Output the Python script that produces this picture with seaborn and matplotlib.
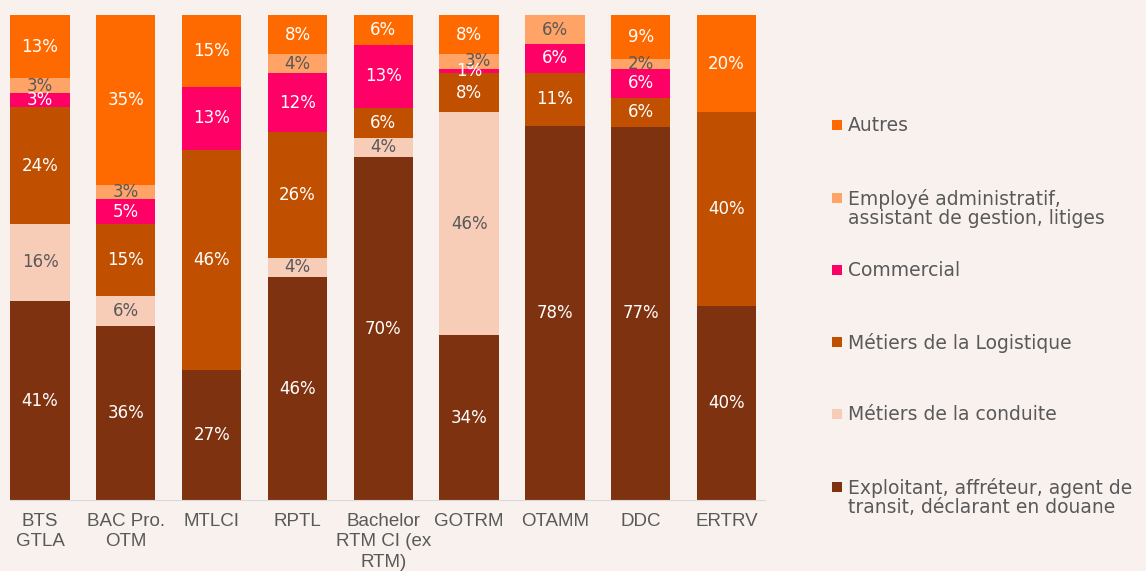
import numpy as np
import pandas as pd
import matplotlib
matplotlib.use('Agg')
import matplotlib.pyplot as plt
from matplotlib.patches import Rectangle
import seaborn as sns

# formations (axe x)
formations = ['BTS\nGTLA', 'BAC Pro.\nOTM', 'MTLCI', 'RPTL', 'Bachelor\nRTM CI (ex\nRTM)',
              'GOTRM', 'OTAMM', 'DDC', 'ERTRV']
# categories, du bas vers le haut
categories = ['Exploitant, affréteur, agent de\ntransit, déclarant en douane',
              'Métiers de la conduite',
              'Métiers de la Logistique',
              'Commercial',
              'Employé administratif,\nassistant de gestion, litiges',
              'Autres']
exploitant = [41, 36, 27, 46, 70, 34, 78, 77, 40]
conduite = [16, 6, 0, 4, 4, 46, 0, 0, 0]
logistique = [24, 15, 46, 26, 6, 8, 11, 6, 40]
commercial = [3, 5, 13, 12, 13, 1, 6, 6, 0]
employe = [3, 3, 0, 4, 0, 3, 6, 2, 0]
autres = [13, 35, 15, 8, 6, 8, 0, 9, 20]

colors = ['#7F3210', '#F8CDB8', '#C04F00', '#FF0066', '#FFA366', '#FF6A00']
label_colors = ['white', '#595959', 'white', 'white', '#595959', 'white']
bg = '#F9F1EE'

vals = np.array([exploitant, conduite, logistique, commercial, employe, autres], dtype=float)
# graphique 100% empile
pct = vals / vals.sum(axis=0) * 100
cum = pct.cumsum(axis=0)

W, H = 1146, 571
fig = plt.figure(figsize=(W / 100, H / 100), dpi=100, facecolor=bg)
ax = fig.add_axes([0.0087, 0.1243, 0.659, 0.849])
ax.set_facecolor(bg)

# on dessine du haut vers le bas, chaque barre recouvre la precedente
for i in range(len(categories) - 1, -1, -1):
    df = pd.DataFrame({'formation': formations, 'y': cum[i]})
    sns.barplot(data=df, x='formation', y='y', color=colors[i], width=0.69,
                saturation=1, ax=ax, order=formations)

for i in range(len(categories)):
    for j in range(len(formations)):
        if vals[i, j] > 0:
            dx = 0.1 if (i == 4 and j == 5) else 0  # petit decalage comme dans Excel
            ax.text(j + dx, cum[i, j] - pct[i, j] / 2, '%d%%' % vals[i, j], ha='center', va='center',
                    fontsize=12, color=label_colors[i], family='DejaVu Sans')

ax.set_ylim(0, 100)
ax.set_xlim(-0.35, 8.45)
ax.set_xlabel('')
ax.set_ylabel('')
ax.set_yticks([])
for s in ['top', 'right', 'left']:
    ax.spines[s].set_visible(False)
ax.spines['bottom'].set_color('#D9D9D9')
ax.tick_params(axis='x', length=0, pad=9, labelsize=13.5, labelcolor='#595959')
for t in ax.get_xticklabels():
    t.set_family(['Liberation Sans Narrow', 'Liberation Sans'])
    t.set_linespacing(1.3)
    t.set_va('top')

# legende a droite, une case par categorie (comme Excel)
leg_y = [125, 198, 270, 342, 414, 487]
for k, i in enumerate(range(len(categories) - 1, -1, -1)):
    y = 1 - leg_y[k] / H
    fig.patches.append(Rectangle((832 / W, y - 5 / H), 10 / W, 10 / H, transform=fig.transFigure,
                                 facecolor=colors[i], edgecolor='none'))
    fig.text(848 / W, y + 9 / H, categories[i], ha='left', va='top', fontsize=13.5,
             color='#595959', family='DejaVu Sans', linespacing=1.0)

fig.savefig('out.png', dpi=100, facecolor=bg)
